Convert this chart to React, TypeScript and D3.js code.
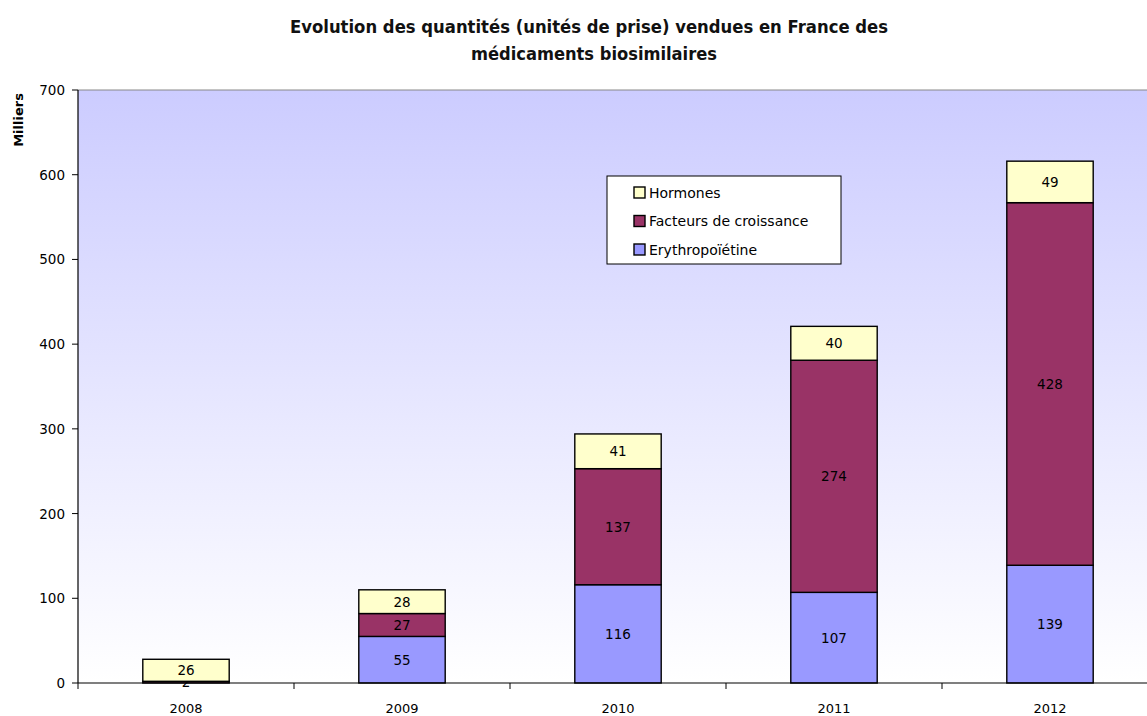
import * as React from 'react';
import * as d3 from 'd3';

const years = ['2008', '2009', '2010', '2011', '2012'];
const erythropoietine = [0, 55, 116, 107, 139];
const facteurs = [2, 27, 137, 274, 428];
const hormones = [26, 28, 41, 40, 49];
const yTicks = [0, 100, 200, 300, 400, 500, 600, 700];

const seriesNames = ['Erythropoïétine', 'Facteurs de croissance', 'Hormones'];
const seriesColors = ['#9999FF', '#993366', '#FFFFCC'];

const W = 1147;
const H = 716;
const margin = { top: 90, left: 78, bottom: 33 };
const bandW = 216;

export default function App() {
    const plotBottom = H - margin.bottom;
    const x = d3.scaleBand<string>()
        .domain(years)
        .range([margin.left, margin.left + bandW * years.length])
        .paddingInner(0.6)
        .paddingOuter(0.3);
    const y = d3.scaleLinear().domain([0, 700]).range([plotBottom, margin.top]);

    const rows = years.map((yr, i) => ({
        year: yr,
        e: erythropoietine[i],
        f: facteurs[i],
        h: hormones[i],
    }));
    const stack = d3.stack<any>().keys(['e', 'f', 'h'])(rows);

    const font = '"DejaVu Sans", sans-serif';

    return (
        <svg width={W} height={H} style={{ position: 'absolute', left: 0, top: 0 }} fontFamily={font}>
            <defs>
                <linearGradient id="bg" x1="0" y1="0" x2="0" y2="1">
                    <stop offset="0" stopColor="#CCCCFF" />
                    <stop offset="1" stopColor="#FFFFFF" />
                </linearGradient>
            </defs>
            <rect x={0} y={0} width={W} height={H} fill="#fff" />
            <text x={589} y={33} textAnchor="middle" fontSize={17} fontWeight="bold" fill="#111"
                textLength={598} lengthAdjust="spacingAndGlyphs">
                Evolution des quantités (unités de prise) vendues en France des
            </text>
            <text x={594} y={60} textAnchor="middle" fontSize={17} fontWeight="bold" fill="#111"
                textLength={246} lengthAdjust="spacingAndGlyphs">
                médicaments biosimilaires
            </text>

            <rect x={margin.left} y={margin.top} width={W - margin.left} height={plotBottom - margin.top} fill="url(#bg)" />
            <line x1={margin.left} x2={W} y1={margin.top} y2={margin.top} stroke="#888" />

            {stack.map((s, si) => (
                <g key={si}>
                    {s.map((d, i) => {
                        const y0 = y(d[0]);
                        const y1 = y(d[1]);
                        const v = d[1] - d[0];
                        const bx = x(years[i])!;
                        return (
                            <g key={i}>
                                {v > 0 && (
                                    <rect x={bx} y={y1} width={x.bandwidth()} height={y0 - y1}
                                        fill={seriesColors[si]} stroke="#000" strokeWidth={1.4} />
                                )}
                                {v > 0 && (
                                    <text x={bx + x.bandwidth() / 2} y={(y0 + y1) / 2 + 5} textAnchor="middle"
                                        fontSize={13.5} fill="#000">{v}</text>
                                )}
                            </g>
                        );
                    })}
                </g>
            ))}

            <line x1={margin.left} x2={margin.left} y1={margin.top} y2={plotBottom} stroke="#000" strokeWidth={1.2} />
            <line x1={margin.left} x2={W} y1={plotBottom} y2={plotBottom} stroke="#000" strokeWidth={1.2} />
            {yTicks.map(t => (
                <g key={t}>
                    <line x1={margin.left - 6} x2={margin.left} y1={y(t)} y2={y(t)} stroke="#000" />
                    <text x={margin.left - 13} y={y(t) + 5} textAnchor="end" fontSize={13.5}>{t}</text>
                </g>
            ))}
            {years.map((yr, i) => (
                <g key={yr}>
                    <line x1={margin.left + i * bandW} x2={margin.left + i * bandW} y1={plotBottom} y2={plotBottom + 6} stroke="#000" />
                    <text x={x(yr)! + x.bandwidth() / 2} y={plotBottom + 30} textAnchor="middle" fontSize={13}>{yr}</text>
                </g>
            ))}
            <text transform={`translate(23,120) rotate(-90)`} textAnchor="middle" fontSize={13} fontWeight="bold">Milliers</text>

            <g transform="translate(607,176)">
                <rect x={0} y={0} width={234} height={88} fill="#fff" stroke="#000" />
                {[2, 1, 0].map((si, k) => (
                    <g key={si} transform={`translate(0,${16 + k * 28.5})`}>
                        <rect x={27} y={-5} width={11} height={11} fill={seriesColors[si]} stroke="#000" strokeWidth={1.4} />
                        <text x={42} y={5.5} fontSize={14}>{seriesNames[si]}</text>
                    </g>
                ))}
            </g>
        </svg>
    );
}
